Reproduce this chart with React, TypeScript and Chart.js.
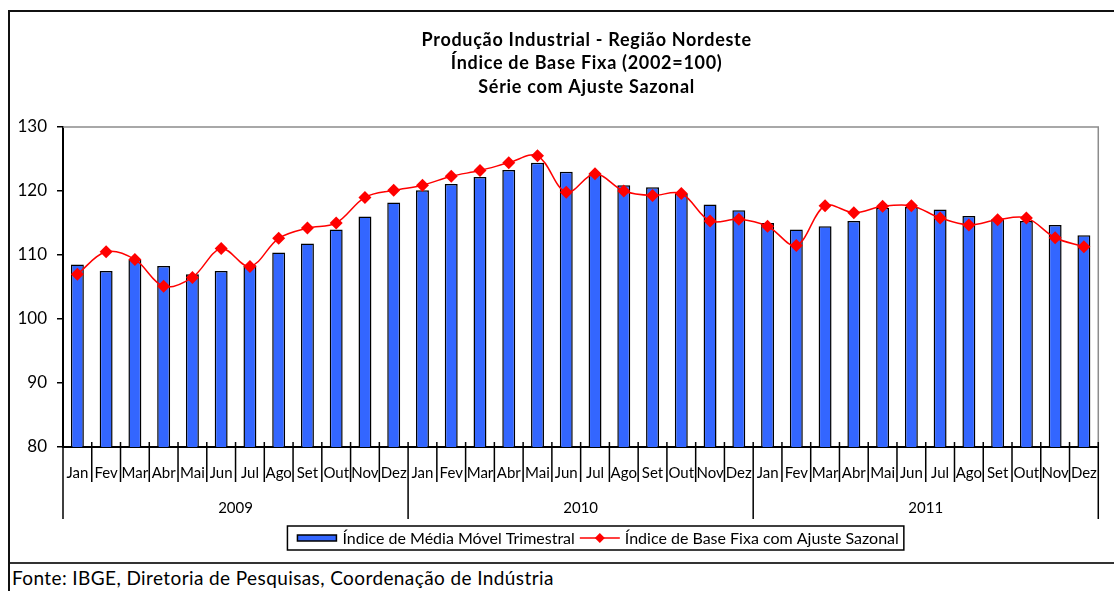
import { useEffect, useRef } from 'react';
import { Chart, registerables } from 'chart.js';

Chart.register(...registerables);

const months = ['Jan', 'Fev', 'Mar', 'Abr', 'Mai', 'Jun', 'Jul', 'Ago', 'Set', 'Out', 'Nov', 'Dez'];
const years = ['2009', '2010', '2011'];
const categories = years.flatMap(() => months);

const movingAverage = [
  108.5, 107.5, 109.3, 108.3, 107.0, 107.5, 108.4, 110.4, 111.8, 114.0, 116.0, 118.2,
  120.1, 121.1, 122.2, 123.3, 124.4, 123.0, 122.6, 120.9, 120.6, 119.6, 117.9, 117.0,
  115.0, 114.0, 114.5, 115.3, 117.4, 117.5, 117.1, 116.1, 115.6, 115.3, 114.7, 113.1,
];
const seasonalAdjusted = [
  107.0, 110.5, 109.3, 105.1, 106.5, 111.0, 108.2, 112.6, 114.2, 115.0, 119.0, 120.1,
  120.9, 122.3, 123.2, 124.4, 125.5, 119.8, 122.7, 120.0, 119.3, 119.6, 115.3, 115.6,
  114.5, 111.5, 117.7, 116.6, 117.6, 117.7, 115.8, 114.7, 115.5, 115.8, 112.7, 111.3,
];
const yTicks = [80, 90, 100, 110, 120, 130];

const titleLines = [
  'Produção Industrial - Região Nordeste',
  'Índice de Base Fixa (2002=100)',
  'Série com Ajuste Sazonal',
];
const barLabel = 'Índice de Média Móvel Trimestral';
const lineLabel = 'Índice de Base Fixa com Ajuste Sazonal';
const source = 'Fonte: IBGE, Diretoria de Pesquisas, Coordenação de Indústria';

const FONT = 'Lato, "Open Sans", sans-serif';
const BAR_COLOR = '#3366FF';
const LINE_COLOR = '#FF0000';

const decorPlugin = {
  id: 'decor',
  beforeDatasetsDraw(chart: any) {
    const { ctx, chartArea: a } = chart;
    ctx.save();
    ctx.strokeStyle = '#8c8c8c';
    ctx.lineWidth = 1.5;
    ctx.beginPath();
    ctx.moveTo(a.left, a.top);
    ctx.lineTo(a.right, a.top);
    ctx.lineTo(a.right, a.bottom);
    ctx.stroke();
    ctx.restore();
  },
  afterDraw(chart: any) {
    const { ctx, chartArea: a } = chart;
    const xs = chart.scales.x;
    const n = categories.length;
    const w = (a.right - a.left) / n;
    ctx.save();

    // title
    ctx.fillStyle = '#000';
    ctx.textAlign = 'center';
    ctx.textBaseline = 'middle';
    ctx.font = `bold 18px ${FONT}`;
    (ctx as any).letterSpacing = '0.7px';
    const tcx = (a.left + a.right) / 2 + 6;
    titleLines.forEach((t, i) => ctx.fillText(t, tcx, 40 + i * 23.5));
    (ctx as any).letterSpacing = '0px';

    // category separators
    ctx.strokeStyle = '#000';
    ctx.lineWidth = 1.5;
    ctx.beginPath();
    for (let i = 0; i <= n; i++) {
      const px = i === n ? a.right : xs.getPixelForValue(i) - w / 2;
      const isYear = i % 12 === 0;
      ctx.moveTo(px, a.bottom - 5);
      ctx.lineTo(px, a.bottom + (isYear ? 72 : 35));
    }
    ctx.stroke();

    // year labels
    ctx.font = `15px ${FONT}`;
    years.forEach((y, k) => {
      const cx = (xs.getPixelForValue(k * 12) + xs.getPixelForValue(k * 12 + 11)) / 2;
      ctx.fillText(y, cx, a.bottom + 61);
    });

    // legend
    ctx.font = `16px ${FONT}`;
    const w1 = ctx.measureText(barLabel).width;
    const w2 = ctx.measureText(lineLabel).width;
    const total = 10 + 39 + 6 + w1 + 5 + 40 + 5 + w2 + 5;
    const lcx = (a.left + a.right) / 2 + 15;
    const lx = lcx - total / 2;
    const ly = a.bottom + 79;
    const lh = 24;
    const mid = ly + lh / 2;
    ctx.lineWidth = 1.5;
    ctx.strokeStyle = '#000';
    ctx.strokeRect(lx, ly, total, lh);
    let cx = lx + 10;
    ctx.fillStyle = BAR_COLOR;
    ctx.fillRect(cx, mid - 3, 39, 6);
    ctx.strokeRect(cx, mid - 3, 39, 6);
    cx += 39 + 6;
    ctx.fillStyle = '#000';
    ctx.textAlign = 'left';
    ctx.fillText(barLabel, cx, mid + 1);
    cx += w1 + 5;
    ctx.strokeStyle = LINE_COLOR;
    ctx.beginPath();
    ctx.moveTo(cx, mid);
    ctx.lineTo(cx + 40, mid);
    ctx.stroke();
    ctx.fillStyle = LINE_COLOR;
    ctx.beginPath();
    ctx.moveTo(cx + 20, mid - 5);
    ctx.lineTo(cx + 25, mid);
    ctx.lineTo(cx + 20, mid + 5);
    ctx.lineTo(cx + 15, mid);
    ctx.closePath();
    ctx.fill();
    cx += 40 + 5;
    ctx.fillStyle = '#000';
    ctx.fillText(lineLabel, cx, mid + 1);

    ctx.restore();
  },
};

export default function App() {
  const ref = useRef<HTMLCanvasElement | null>(null);

  useEffect(() => {
    if (!ref.current) return;
    const chart = new Chart(ref.current, {
      type: 'bar',
      data: {
        labels: categories,
        datasets: [
          {
            type: 'line',
            label: lineLabel,
            data: seasonalAdjusted,
            borderColor: LINE_COLOR,
            backgroundColor: LINE_COLOR,
            borderWidth: 1.5,
            tension: 0.35,
            pointStyle: 'rectRot',
            pointRadius: 6.5,
            pointBorderWidth: 0,
            pointBackgroundColor: LINE_COLOR,
            order: 0,
          } as any,
          {
            type: 'bar',
            label: barLabel,
            data: movingAverage,
            backgroundColor: BAR_COLOR,
            borderColor: '#000',
            borderWidth: 1.5,
            barPercentage: 0.45,
            categoryPercentage: 1,
            order: 1,
          },
        ],
      },
      options: {
        responsive: false,
        animation: false,
        devicePixelRatio: 1,
        layout: { padding: { left: 8, right: 7, top: 127, bottom: 0 } },
        plugins: {
          legend: { display: false },
          title: { display: false },
          tooltip: { enabled: false },
        },
        scales: {
          x: {
            type: 'category',
            offset: true,
            grid: { display: false, drawTicks: false },
            border: { display: true, color: '#000', width: 2 },
            ticks: {
              color: '#000',
              font: { family: FONT, size: 15 },
              padding: 17,
              maxRotation: 0,
              autoSkip: false,
            },
            afterFit: (s: any) => {
              s.height = 116;
            },
          },
          y: {
            min: 80,
            max: 130,
            afterBuildTicks: (s: any) => {
              s.ticks = yTicks.map((v) => ({ value: v }));
            },
            grid: {
              drawOnChartArea: false,
              drawTicks: true,
              tickLength: 6,
              color: '#000',
              lineWidth: 1.5,
            },
            border: { display: true, color: '#000', width: 2 },
            ticks: {
              color: '#000',
              font: { family: FONT, size: 17 },
              padding: 10,
            },
            afterFit: (s: any) => {
              s.width = 55;
            },
          },
        },
      },
      plugins: [decorPlugin],
    });
    return () => chart.destroy();
  }, []);

  return (
    <div
      style={{
        position: 'fixed',
        left: 0,
        top: 0,
        width: 1114,
        height: 591,
        overflow: 'hidden',
        background: '#fff',
      }}
    >
      <div
        style={{
          position: 'absolute',
          left: 8,
          top: 10,
          width: 1300,
          height: 700,
          borderTop: '2px solid #111',
          borderLeft: '2px solid #111',
          boxSizing: 'border-box',
        }}
      />
      <canvas
        ref={ref}
        width={1114}
        height={563}
        style={{ position: 'absolute', left: 0, top: 0, width: 1114, height: 563 }}
      />
      <div
        style={{
          position: 'absolute',
          left: 10,
          top: 562,
          width: 1200,
          borderTop: '2px solid #333',
        }}
      />
      <div
        style={{
          position: 'absolute',
          left: 12,
          top: 566,
          fontFamily: FONT,
          fontSize: 19,
          letterSpacing: '0.4px',
          color: '#000',
          whiteSpace: 'nowrap',
          lineHeight: '24px',
        }}
      >
        {source}
      </div>
    </div>
  );
}
